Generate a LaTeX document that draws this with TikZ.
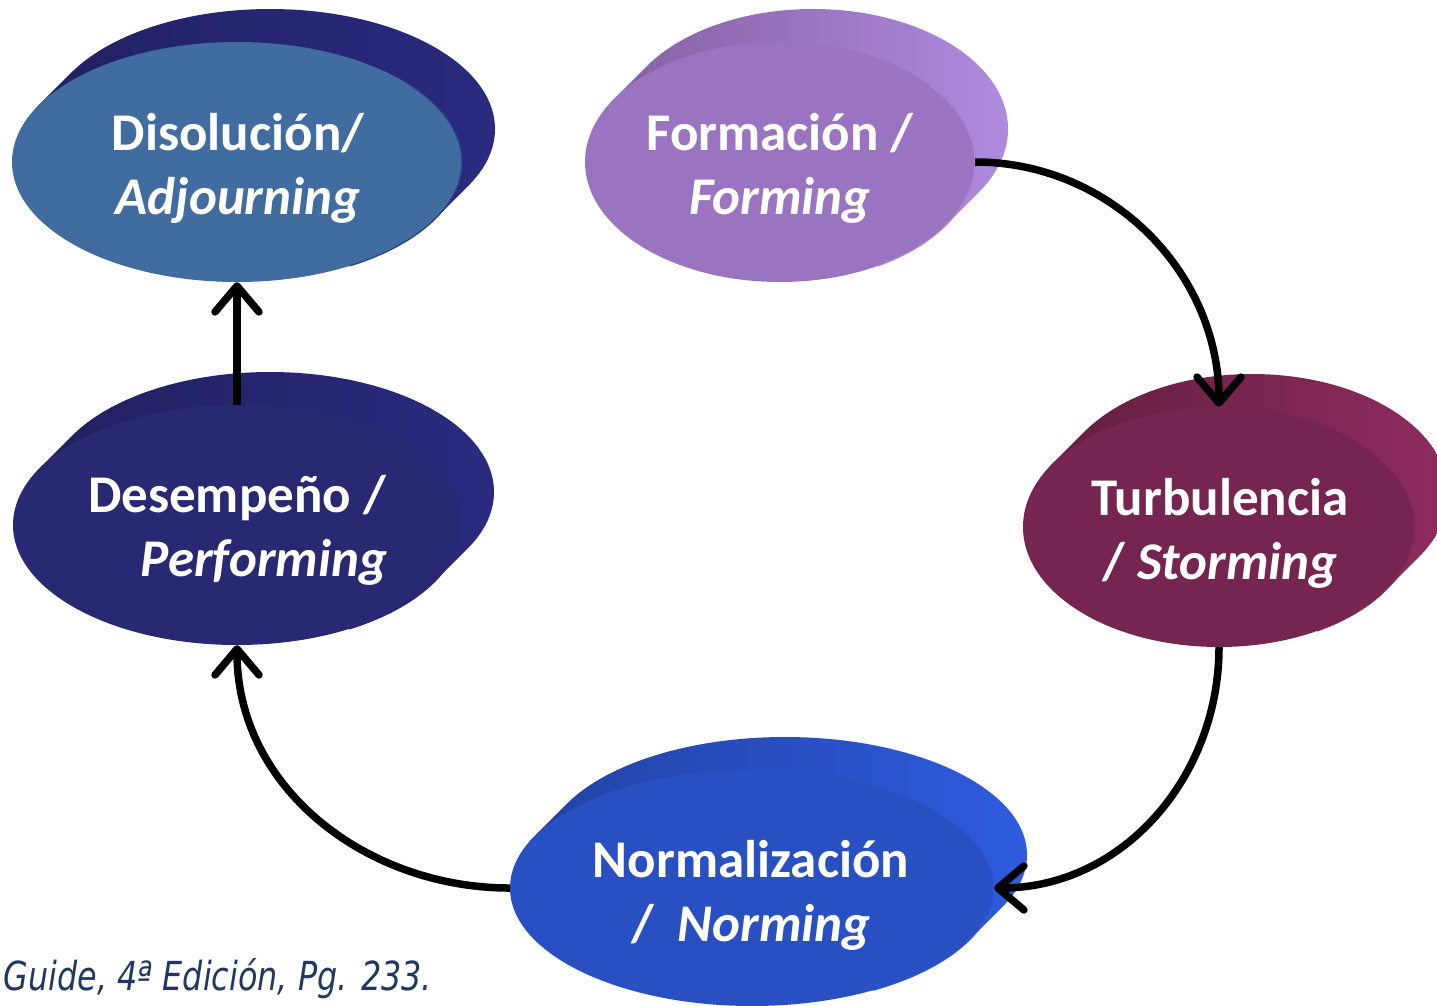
\documentclass[tikz,border=0pt]{standalone}
\usepackage{fontspec}
\usepackage{graphicx}
\setmainfont{Carlito}
\newfontfamily\citefont{DejaVu Sans}
\usetikzlibrary{arrows.meta,shapes.geometric,calc}

% front faces
\definecolor{disFront}{RGB}{65,108,160}
\definecolor{formFront}{RGB}{155,116,193}
\definecolor{turbFront}{RGB}{117,37,79}
\definecolor{normFront}{RGB}{40,80,194}
\definecolor{desFront}{RGB}{40,40,115}
% extruded sides (dark upper-left, light lower-right)
\definecolor{disSideA}{RGB}{33,32,96}
\definecolor{disSideB}{RGB}{42,42,128}
\definecolor{formSideA}{RGB}{130,94,160}
\definecolor{formSideB}{RGB}{176,138,222}
\definecolor{turbSideA}{RGB}{95,30,60}
\definecolor{turbSideB}{RGB}{142,44,94}
\definecolor{normSideA}{RGB}{34,64,160}
\definecolor{normSideB}{RGB}{46,92,222}
\definecolor{desSideA}{RGB}{33,32,92}
\definecolor{desSideB}{RGB}{42,42,128}
\definecolor{citeblue}{RGB}{31,56,100}

% two-line stage caption, baseline on the first line
\newcommand\stagetext[2]{\parbox[t]{470pt}{\centering #1\\#2}}

% extruded disk: name, cx, cy, rx, ry, front, side dark, side light
\newcommand\stagedisk[8]{%
  \shade[left color=#7, right color=#8]
    \foreach \k in {1,...,24}{ (#2+\k*33/24, #3-\k*33/24) ellipse [x radius=#4pt, y radius=#5pt] };
  \node[stage, fill=#6, minimum width={2*#4pt}, minimum height={2*#5pt}] (#1) at (#2,#3) {};
  \draw[#8!70!#6, line width=1.3pt]
    ($(#1.center)+(-60:#4pt and #5pt)$) arc[start angle=-60, end angle=40, x radius=#4pt, y radius=#5pt];
}

\begin{document}
\begin{tikzpicture}[x=1pt, y=-1pt,
  stage/.style={ellipse, inner sep=0pt, draw=none},
  lbl/.style={anchor=base, inner sep=0pt, text=white,
              font=\fontsize{53}{64}\selectfont\bfseries},
  flow/.style={line width=7.5pt, -{Straight Barb[length=26pt, width=44pt, round]}}]

\useasboundingbox (0,0) rectangle (1437,1005);

\stagedisk{dis}{237}{162}{225}{120}{disFront}{disSideA}{disSideB}
\stagedisk{form}{780}{162}{195}{120}{formFront}{formSideA}{formSideB}
\stagedisk{turb}{1219}{527}{196}{120}{turbFront}{turbSideA}{turbSideB}
\stagedisk{norm}{752}{888}{242}{118}{normFront}{normSideA}{normSideB}
\stagedisk{des}{237}{525}{224}{120}{desFront}{desSideA}{desSideB}

\node[lbl] (dis-text)  at (238,150)  {\stagetext{Disolución/}{\itshape Adjourning}};
\node[lbl] (form-text) at (780,150)  {\stagetext{Formación /}{\itshape Forming}};
\node[lbl] (turb-text) at (1220,515) {\stagetext{Turbulencia}{/ \itshape Storming}};
\node[lbl] (norm-text) at (751,877)  {\stagetext{Normalización}{/\hspace{0.45em}\itshape Norming}};
\node[lbl] (des-text)  at (237,512)  {\stagetext{Desempeño /}{\hspace*{54pt}\itshape Performing}};

% cycle of stages
\draw[flow] (form.east) to[out=0, in=90] (turb.north);
\draw[flow] (turb.south) to[out=-90, in=0] (norm.east);
\draw[flow] (norm.west) to[out=180, in=-90] (des.south);
\draw[flow] (des.north) -- (dis.south);

\node[anchor=base east, inner sep=0pt, text=citeblue,
      font=\citefont\itshape\fontsize{40}{48}\selectfont] (cite) at (432,990)
  {\scalebox{0.795}[1]{Guide, 4ª Edición, Pg. 233.}};
\end{tikzpicture}
\end{document}
